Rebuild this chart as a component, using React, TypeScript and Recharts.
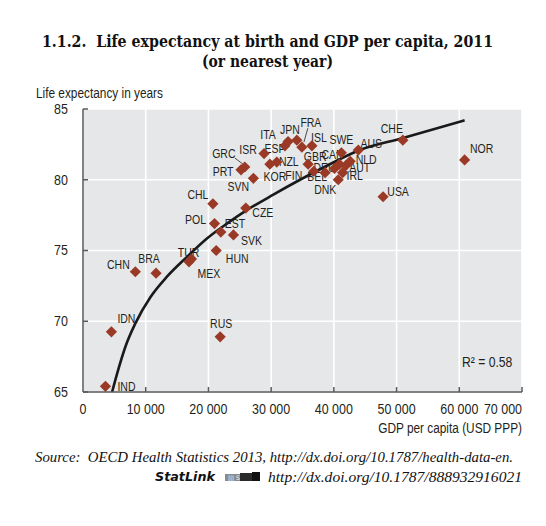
import React from "react";
import {
  ComposedChart,
  Scatter,
  Line,
  XAxis,
  YAxis,
  CartesianGrid,
} from "recharts";

// OECD countries + partners, 2011 (or nearest year)
const countries = [
  "CHN", "BRA", "TUR", "MEX", "HUN", "SVK", "EST", "POL", "CHL", "CZE",
  "IDN", "RUS", "IND", "PRT", "GRC", "SVN", "ISR", "KOR", "NZL", "ESP",
  "ITA", "JPN", "FRA", "ISL", "GBR", "FIN", "BEL", "DEU", "CAN", "SWE",
  "DNK", "IRL", "AUT", "NLD", "AUS", "USA", "CHE", "NOR",
];
const gdpPerCapita = [
  8350, 11650, 17300, 16900, 21240, 23990, 21980, 20970, 20710, 25960,
  4530, 21870, 3580, 25200, 25800, 27170, 28870, 29800, 30900, 32200,
  32700, 34100, 34900, 36500, 35900, 36800, 38600, 40100, 40900, 41200,
  40700, 41400, 41900, 42600, 43900, 47850, 51000, 60850,
];
const lifeExpectancy = [
  73.5, 73.4, 74.4, 74.2, 75.0, 76.1, 76.3, 76.9, 78.3, 78.0,
  69.25, 68.9, 65.4, 80.7, 80.9, 80.1, 81.85, 81.1, 81.25, 82.4,
  82.7, 82.8, 82.3, 82.4, 81.1, 80.6, 80.5, 80.8, 81.1, 81.9,
  80.0, 80.5, 81.0, 81.3, 82.1, 78.8, 82.8, 81.4,
];

// logarithmic trend line
const trendGdp = [
  4640, 5440, 6760, 8350, 10740, 13390, 16580, 19760, 22940, 26120, 30350,
  38500, 44150, 51030, 60850,
];
const trendLife = [
  65.0, 66.3, 68.2, 69.85, 71.7, 73.15, 74.55, 75.85, 76.9, 77.85, 78.95,
  80.9, 82.1, 82.95, 84.2,
];

const xTicks = [0, 10000, 20000, 30000, 40000, 50000, 60000, 70000];
const yTicks = [65, 70, 75, 80, 85];

const points = countries.map((code, i) => ({
  code,
  gdp: gdpPerCapita[i],
  life: lifeExpectancy[i],
}));
const trend = trendGdp.map((gdp, i) => ({ gdp, life: trendLife[i] }));

// label placement relative to the marker centre
const labelOffsets: Record<string, [number, number]> = {
  CHN: [-17, -7], BRA: [-7, -14], TUR: [-3, -6], MEX: [20, 12],
  HUN: [21, 8], SVK: [18, 6], EST: [14, -8], POL: [-19, -4],
  CHL: [-15, -9], CZE: [17, 5], IDN: [15, -13], RUS: [1, -13],
  IND: [21, 0], PRT: [-18, 2], GRC: [-21, -13], SVN: [-15, 8],
  ISR: [-16, -4], KOR: [5, 12], NZL: [12, 0], ESP: [-10, 3],
  ITA: [-20, -7], JPN: [-7, -10], FRA: [9, -25], ISL: [7, -8],
  GBR: [7, -8], FIN: [-20, 4], BEL: [-8, 4], DEU: [-10, -1],
  CAN: [-7, -10], SWE: [0, -13], DNK: [-13, 10], IRL: [12, 3],
  AUT: [14, 2], NLD: [16, -2], AUS: [13, -6], USA: [15, -5],
  CHE: [-11, -11], NOR: [17, -11],
};
// leader lines [x1, y1, x2, y2] relative to the marker centre
const leaders: Record<string, [number, number, number, number]> = {
  GRC: [-10, -9, -2, -3],
  FRA: [6, -19, 2, -5],
};

const MARKER = "#9a3a26";
const TEXT = "#231f20";
const SANS = "'Liberation Sans', Arial, sans-serif";
const Y_MARGIN = 15;
const X_MARGIN = 12;

// Helvetica-condensed look: horizontally squeezed Liberation Sans
function NText({
  x,
  y,
  sx = 0.8,
  size = 14,
  anchor = "start",
  baseline,
  dy,
  children,
}: any) {
  return (
    <text
      transform={`translate(${x},${y}) scale(${sx},1)`}
      x={0}
      y={0}
      dy={dy}
      textAnchor={anchor}
      dominantBaseline={baseline}
      fontFamily={SANS}
      fontSize={size}
      fill={TEXT}
    >
      {children}
    </text>
  );
}

function LabelShape(props: any) {
  const { cx, cy, payload } = props;
  const [dx, dy] = labelOffsets[payload.code] ?? [0, -12];
  const lead = leaders[payload.code];
  return (
    <g>
      {lead && (
        <line
          x1={cx + lead[0]}
          y1={cy + lead[1]}
          x2={cx + lead[2]}
          y2={cy + lead[3]}
          stroke={TEXT}
          strokeWidth={0.8}
        />
      )}
      <NText x={cx + dx} y={cy + dy} size={12.5} sx={0.84} anchor="middle" baseline="central">
        {payload.code}
      </NText>
    </g>
  );
}

function DiamondShape(props: any) {
  const { cx, cy } = props;
  const r = 5.6;
  return (
    <path
      d={`M${cx},${cy - r}L${cx + r},${cy}L${cx},${cy + r}L${cx - r},${cy}Z`}
      fill={MARKER}
    />
  );
}

function YTick(props: any) {
  const { x, y, payload } = props;
  const ax = x + Y_MARGIN;
  return (
    <g>
      <line x1={ax} y1={y} x2={ax + 5} y2={y} stroke="#58595b" strokeWidth={1.5} />
      <NText x={x} y={y} size={14.5} sx={0.86} anchor="end" baseline="central">
        {payload.value}
      </NText>
    </g>
  );
}

function XTick(props: any) {
  const { x, y, payload, index } = props;
  const ay = y - X_MARGIN;
  const last = index === xTicks.length - 1;
  const label =
    payload.value === 0 ? "0" : `${Math.round(payload.value / 1000)} 000`;
  return (
    <g>
      {index > 0 && (
        <line x1={x} y1={ay} x2={x} y2={ay - 5} stroke="#58595b" strokeWidth={1.5} />
      )}
      <NText x={x} y={y} size={14.5} sx={0.86} dy="0.71em" anchor={last ? "end" : "middle"}>
        {label}
      </NText>
    </g>
  );
}

export default function App() {
  return (
    <div
      style={{
        position: "absolute",
        left: 0,
        top: 0,
        width: 546,
        height: 526,
        background: "#fff",
      }}
    >
      <ComposedChart
        width={546}
        height={526}
        margin={{ top: 109, right: 24, bottom: 104, left: 23 }}
      >
        <CartesianGrid fill="#e6e7e8" stroke="#ffffff" strokeWidth={1.6} />
        <XAxis
          type="number"
          dataKey="gdp"
          domain={[0, 70000]}
          ticks={xTicks}
          interval={0}
          axisLine={{ stroke: "#58595b", strokeWidth: 1.5 }}
          tickLine={false}
          tickSize={0}
          tickMargin={X_MARGIN}
          tick={<XTick />}
        />
        <YAxis
          type="number"
          dataKey="life"
          domain={[65, 85]}
          ticks={yTicks}
          interval={0}
          axisLine={{ stroke: "#58595b", strokeWidth: 1.5 }}
          tickLine={false}
          tickSize={0}
          tickMargin={Y_MARGIN}
          tick={<YTick />}
        />
        <Scatter
          data={points}
          dataKey="life"
          shape={<LabelShape />}
          isAnimationActive={false}
        />
        <Scatter
          data={points}
          dataKey="life"
          shape={<DiamondShape />}
          isAnimationActive={false}
        />
        <Line
          data={trend}
          dataKey="life"
          type="monotone"
          stroke="#1a1a1a"
          strokeWidth={2.6}
          dot={false}
          activeDot={false}
          isAnimationActive={false}
        />
      </ComposedChart>

      <svg
        width={546}
        height={526}
        style={{ position: "absolute", left: 0, top: 0, pointerEvents: "none" }}
      >
        <g fontFamily="'DejaVu Serif Condensed', 'DejaVu Serif', serif" fontWeight="bold" fill="#111">
          <text x={267.5} y={47} textAnchor="middle" fontSize={16.5} textLength={451} lengthAdjust="spacingAndGlyphs">
            1.1.2.{"\u00a0\u00a0"}Life expectancy at birth and GDP per capita, 2011
          </text>
          <text x={267.5} y={67} textAnchor="middle" fontSize={16.5} textLength={131} lengthAdjust="spacingAndGlyphs">
            (or nearest year)
          </text>
        </g>
        <NText x={36} y={98} size={15} sx={0.79}>Life expectancy in years</NText>
        <NText x={522} y={433} size={15} sx={0.79} anchor="end">GDP per capita (USD PPP)</NText>
        <NText x={462} y={367} size={14.5} sx={0.84}>R² = 0.58</NText>
        <g fontFamily="'Liberation Serif', serif" fontStyle="italic" fontSize={14} fill="#111">
          <text x={35} y={462} textLength={478} lengthAdjust="spacingAndGlyphs">
            Source:{"\u00a0\u00a0"}OECD Health Statistics 2013, http://dx.doi.org/10.1787/health-data-en.
          </text>
          <text x={268} y={482} textLength={254} lengthAdjust="spacingAndGlyphs">
            http://dx.doi.org/10.1787/888932916021
          </text>
        </g>
        <text
          x={155}
          y={481}
          fontFamily="'DejaVu Sans', sans-serif"
          fontStyle="italic"
          fontWeight="bold"
          fontSize={12}
          fill="#111"
          textLength={60}
          lengthAdjust="spacingAndGlyphs"
        >
          StatLink
        </text>
        <g>
          <rect x={225} y={474} width={26} height={7} fill="#8a8c8e" />
          <rect x={240} y={473} width={14} height={8} fill="#2b2b2b" />
          <rect x={252} y={472} width={8} height={9} fill="#111" />
          <text x={228} y={480} fontSize={6} fontFamily="'DejaVu Sans', sans-serif" fill="#fff">
            ||| S
          </text>
        </g>
      </svg>
    </div>
  );
}
